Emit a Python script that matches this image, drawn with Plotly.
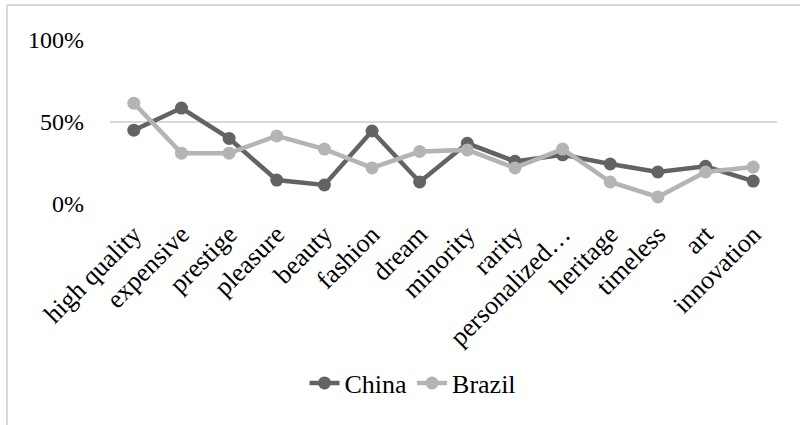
import plotly.graph_objects as go

# Share of respondents associating each attribute with luxury
categories = ["high quality", "expensive", "prestige", "pleasure", "beauty", "fashion",
              "dream", "minority", "rarity", "personalized…", "heritage", "timeless",
              "art", "innovation"]
china = [0.45, 0.585, 0.40, 0.146, 0.116, 0.445, 0.134, 0.37, 0.26, 0.30, 0.244, 0.195, 0.23, 0.14]
brazil = [0.615, 0.31, 0.31, 0.415, 0.335, 0.22, 0.32, 0.33, 0.22, 0.335, 0.134, 0.043, 0.195, 0.225]
y_ticks = [0, 0.5, 1.0]
y_tick_text = ["0%", "50%", "100%"]

FONT = "Liberation Serif, Times New Roman, serif"
GRID = "#d9d9d9"

W, H = 800, 425
L, R, T, B = 110, 23, 40, 221
pw, ph = W - L - R, H - T - B


def px_x(x):
    return (x - L) / pw


def px_y(y):
    return (H - B - y) / ph


fig = go.Figure()
fig.add_trace(go.Scatter(x=categories, y=china, name="China", mode="lines+markers",
                         line=dict(color="#636363", width=4.5),
                         marker=dict(color="#636363", size=13)))
fig.add_trace(go.Scatter(x=categories, y=brazil, name="Brazil", mode="lines+markers",
                         line=dict(color="#b4b4b4", width=4.5),
                         marker=dict(color="#b4b4b4", size=13)))

# Chart frame (left and top edges)
frame = dict(color=GRID, width=2)
fig.add_shape(type="line", xref="paper", yref="paper",
              x0=px_x(7), x1=px_x(7), y0=px_y(5), y1=px_y(H + 10), line=frame)
fig.add_shape(type="line", xref="paper", yref="paper",
              x0=px_x(7), x1=px_x(W + 10), y0=px_y(5), y1=px_y(5), line=frame)

fig.update_layout(
    width=W, height=H,
    margin=dict(l=L, r=R, t=T, b=B),
    paper_bgcolor="white", plot_bgcolor="white",
    font=dict(family=FONT, size=26, color="black"),
    showlegend=True,
    legend=dict(orientation="h", x=px_x(413), xanchor="center",
                y=px_y(383), yanchor="middle", font=dict(size=26),
                bgcolor="rgba(0,0,0,0)"),
    xaxis=dict(type="category", tickangle=-45, showgrid=False, zeroline=False,
               showline=False, ticks="", tickfont=dict(size=26), range=[-0.5, 13.5],
               ticklabelstandoff=9),
    yaxis=dict(range=[0, 1.0], tickvals=y_ticks, ticktext=y_tick_text,
               showgrid=True, gridcolor=GRID, gridwidth=1.5, zeroline=False,
               showline=False, ticks="", ticklen=0, tickfont=dict(size=24),
               ticklabelstandoff=25),
)

fig.write_html("out.html")
